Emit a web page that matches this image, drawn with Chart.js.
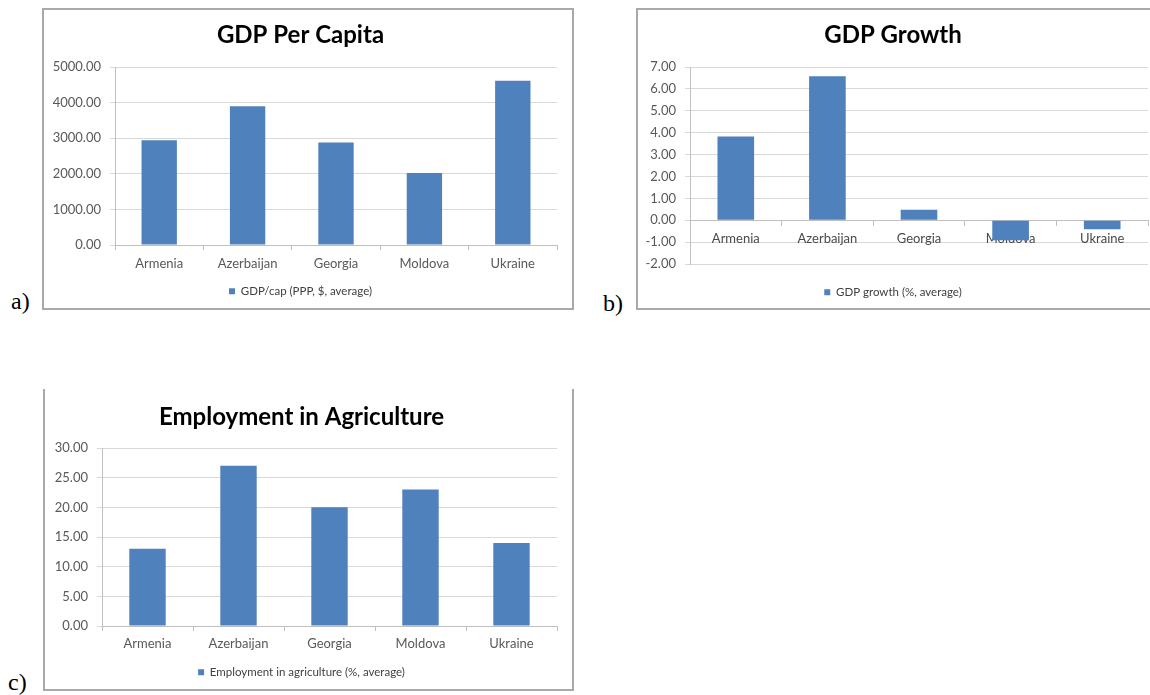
<!DOCTYPE html>
<html>
<head>
<meta charset="utf-8">
<script src="https://cdn.jsdelivr.net/npm/chart.js@4"></script>
<style>
  html, body { margin:0; padding:0; background:#fff; width:1150px; height:695px; overflow:hidden; position:relative; }
  .box { position:absolute; box-sizing:border-box; border:2px solid #a9a9a9; }
  canvas { position:absolute; }
  .lbl { position:absolute; font-family:"Liberation Serif","Times New Roman",serif; font-size:24px; line-height:1; color:#000; }
</style>
</head>
<body>
<div class="box" style="left:42px;top:8px;width:532px;height:302px;"></div>
<div class="box" style="left:636px;top:8px;width:600px;height:302px;"></div>
<div class="box" style="left:43px;top:389px;width:531px;height:302px;border-top:none;"></div>
<div class="lbl" style="left:11px;top:289px;">a)</div>
<div class="lbl" style="left:603px;top:291px;">b)</div>
<div class="lbl" style="left:8px;top:670px;">c)</div>
<canvas id="cA" width="529" height="297" style="left:44px;top:10px;"></canvas>
<canvas id="cB" width="530" height="298" style="left:638px;top:10px;"></canvas>
<canvas id="cC" width="527" height="298" style="left:46px;top:390px;"></canvas>
<script>
// ---- data ----
const categories = ["Armenia", "Azerbaijan", "Georgia", "Moldova", "Ukraine"];
const gdpPerCapita = [2940, 3895, 2880, 2025, 4615];
const gdpGrowth = [3.82, 6.58, 0.48, -0.92, -0.41];
const employmentAgriculture = [13.0, 27.0, 20.0, 23.0, 14.0];
const titleA = "GDP Per Capita";
const titleB = "GDP Growth";
const titleC = "Employment in Agriculture";
const legendA = "GDP/cap (PPP, $, average)";
const legendB = "GDP growth (%, average)";
const legendC = "Employment in agriculture (%, average)";
const yTicksA = { min: 0, max: 5000, step: 1000 };
const yTicksB = { min: -2, max: 7, step: 1 };
const yTicksC = { min: 0, max: 30, step: 5 };

// ---- styling ----
const FONT = "Lato, 'Open Sans', sans-serif";
const BAR = "#4F81BD";
const GRID = "#d9d9d9";
const AXIS = "#bfbfbf";
const TICKTXT = "#595959";

function makeChart(id, title, legendLabel, values, yt, o) {
  const xScale = {
    type: 'category',
    offset: true,
    z: o.xAtZero ? 1 : 0,
    grid: { offset: true, drawOnChartArea: false, drawTicks: true, tickLength: 5, color: AXIS, z: -1 },
    border: { color: AXIS, width: 1 },
    ticks: { color: o.xAtZero ? '#4a4a4a' : TICKTXT, font: { family: FONT, size: 13 }, padding: o.xPad, maxRotation: 0, autoSkip: false },
  };
  if (o.xAtZero) {
    xScale.position = { y: 0 };
  } else {
    xScale.position = 'bottom';
    xScale.afterFit = (s) => { s.height = o.xHeight; };
  }
  return new Chart(document.getElementById(id), {
    type: 'bar',
    data: {
      labels: categories,
      datasets: [{
        label: legendLabel,
        data: values,
        backgroundColor: BAR,
        borderWidth: 0,
        categoryPercentage: 1.0,
        barPercentage: 0.4,
      }]
    },
    options: {
      responsive: false,
      animation: false,
      devicePixelRatio: 1,
      layout: { padding: { left: 0, right: o.padRight, top: 0, bottom: 0 } },
      plugins: {
        title: {
          display: true, text: title, color: '#000',
          font: { family: FONT, size: 24, weight: 'bold', lineHeight: 1.2 },
          padding: { top: o.titleTop, bottom: o.titleBottom }
        },
        legend: {
          display: true, position: 'bottom',
          labels: { boxWidth: 6, boxHeight: 6, padding: o.legPad, color: '#404040',
                    font: { family: FONT, size: 11.5 } }
        },
        tooltip: { enabled: false }
      },
      scales: {
        x: xScale,
        y: {
          min: yt.min, max: yt.max,
          afterFit: (s) => { s.width = o.yWidth; },
          grid: { color: GRID, drawTicks: true, tickLength: 5, lineWidth: 1 },
          border: { color: AXIS, width: 1 },
          ticks: { stepSize: yt.step, color: TICKTXT, padding: 9,
                   font: { family: FONT, size: 13 },
                   callback: (v) => Number(v).toFixed(2) }
        }
      }
    }
  });
}

makeChart('cA', titleA, legendA, gdpPerCapita, yTicksA,
  { padRight: 16, titleTop: 10.6, titleBottom: 17.6, legPad: 12.5, xHeight: 28, xPad: 6.5, yWidth: 71 });
makeChart('cB', titleB, legendB, gdpGrowth, yTicksB,
  { padRight: 20, titleTop: 10.6, titleBottom: 17.6, legPad: 22.5, xAtZero: true, xPad: 5.5, yWidth: 52 });
makeChart('cC', titleC, legendC, employmentAgriculture, yTicksC,
  { padRight: 16, titleTop: 12.6, titleBottom: 16.6, legPad: 10.5, xHeight: 30, xPad: 5.5, yWidth: 56 });
</script>
</body>
</html>
